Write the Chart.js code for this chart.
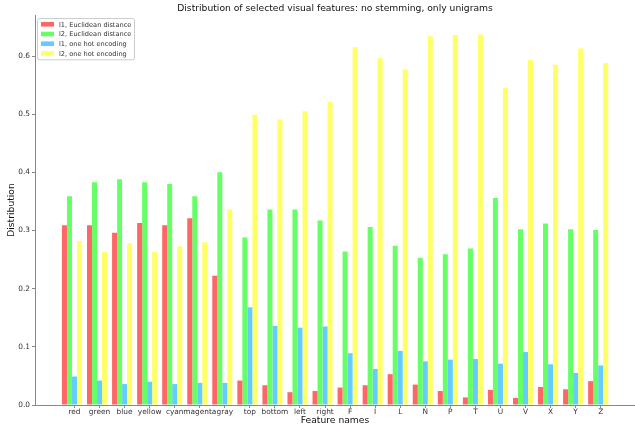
<!DOCTYPE html>
<html>
<head>
<meta charset="utf-8">
<script src="https://cdn.jsdelivr.net/npm/chart.js@4"></script>
<style>
  html, body { margin: 0; padding: 0; background: #fff; }
  #wrap { width: 635px; height: 426px; }
</style>
</head>
<body>
<div id="wrap"><canvas id="chart"></canvas></div>
<script>
const features = ["red", "green", "blue", "yellow", "cyan", "magenta", "gray", "top", "bottom", "left", "right",
  "F", "I", "L", "N", "P", "T", "U", "V", "X", "Y", "Z"];

const l1Euclid = [0.309, 0.309, 0.296, 0.313, 0.309, 0.321, 0.222, 0.042, 0.034, 0.022, 0.024,
  0.030, 0.034, 0.053, 0.035, 0.024, 0.013, 0.026, 0.012, 0.031, 0.027, 0.041];
const l2Euclid = [0.359, 0.383, 0.388, 0.383, 0.380, 0.359, 0.400, 0.288, 0.336, 0.336, 0.317,
  0.264, 0.306, 0.274, 0.253, 0.259, 0.269, 0.356, 0.302, 0.312, 0.302, 0.301];
const l1OneHot = [0.049, 0.042, 0.036, 0.040, 0.036, 0.038, 0.038, 0.168, 0.136, 0.133, 0.135,
  0.089, 0.062, 0.093, 0.075, 0.078, 0.079, 0.071, 0.091, 0.070, 0.055, 0.068];
const l2OneHot = [0.282, 0.263, 0.278, 0.263, 0.273, 0.280, 0.336, 0.499, 0.491, 0.505, 0.521,
  0.615, 0.596, 0.577, 0.634, 0.636, 0.637, 0.545, 0.593, 0.585, 0.613, 0.588];

const yTicks = [0, 0.1, 0.2, 0.3, 0.4, 0.5, 0.6];

const seriesNames = ["l1, Euclidean distance", "l2, Euclidean distance", "l1, one hot encoding", "l2, one hot encoding"];
const seriesColors = ["#ff6666", "#66ff66", "#66ccff", "#ffff66"];
const chartTitle = "Distribution of selected visual features: no stemming, only unigrams";

const font = "'DejaVu Sans', sans-serif";
const axisColor = "#888";
const textColor = "#333";

function toPoints(values) {
  return values.map((v, i) => ({ x: i, y: v }));
}

const datasets = [l1Euclid, l2Euclid, l1OneHot, l2OneHot].map((vals, k) => ({
  label: seriesNames[k],
  data: toPoints(vals),
  backgroundColor: seriesColors[k],
  borderWidth: 0,
  categoryPercentage: 0.8,
  barPercentage: 1.0
}));

// title centred over the plot area (not the canvas), like matplotlib
const axesTitle = {
  id: "axesTitle",
  afterDraw(chart) {
    const ctx = chart.ctx;
    const a = chart.chartArea;
    ctx.save();
    ctx.font = "9.2px " + font;
    ctx.fillStyle = "#111";
    ctx.textAlign = "center";
    ctx.textBaseline = "middle";
    ctx.fillText(chartTitle, (a.left + a.right) / 2, 9);
    ctx.restore();
  }
};

// boxed legend in the upper left corner of the plot
const boxLegend = {
  id: "boxLegend",
  afterDraw(chart) {
    const ctx = chart.ctx;
    const x0 = chart.chartArea.left + 2, y0 = chart.chartArea.top + 3;
    const w = 97, rowH = 9.7;
    const h = rowH * seriesNames.length + 2.5;
    ctx.save();
    ctx.fillStyle = "rgba(255,255,255,0.85)";
    ctx.strokeStyle = "#ccc";
    ctx.lineWidth = 1;
    ctx.beginPath();
    ctx.roundRect(x0 + 0.5, y0 + 0.5, w, h, 2);
    ctx.fill();
    ctx.stroke();
    ctx.font = "6.6px " + font;
    ctx.textBaseline = "middle";
    chart.data.datasets.forEach((ds, k) => {
      const cy = y0 + 6.3 + k * rowH;
      ctx.fillStyle = ds.backgroundColor;
      ctx.fillRect(x0 + 4, cy - 2.3, 13, 4.6);
      ctx.fillStyle = textColor;
      ctx.fillText(ds.label, x0 + 22, cy + 0.5);
    });
    ctx.restore();
  }
};

new Chart(document.getElementById("chart"), {
  type: "bar",
  data: { datasets },
  options: {
    responsive: true,
    maintainAspectRatio: false,
    animation: false,
    layout: { padding: { left: 0, right: 0, top: 15, bottom: 0 } },
    plugins: {
      legend: { display: false },
      tooltip: { enabled: false },
      title: { display: false }
    },
    scales: {
      x: {
        type: "linear",
        offset: false,
        min: -1.476,
        max: 22.47,
        afterBuildTicks(scale) {
          scale.ticks = features.map((_, i) => ({ value: i + 0.1 }));
        },
        afterFit(scale) { scale.height = 21; },
        grid: { display: true, offset: false, drawOnChartArea: false, drawTicks: true, tickLength: 3, color: axisColor },
        border: { display: true, color: axisColor, width: 1 },
        ticks: {
          autoSkip: false,
          maxRotation: 0,
          padding: 0,
          color: textColor,
          font: { family: font, size: 7.4 },
          callback(v) { return features[Math.round(v - 0.1)]; }
        },
        title: {
          display: true,
          text: "Feature names",
          color: "#111",
          font: { family: font, size: 9.2 },
          padding: { top: 0, bottom: 0 }
        }
      },
      y: {
        min: 0,
        max: 0.6705,
        afterBuildTicks(scale) {
          scale.ticks = yTicks.map(v => ({ value: v }));
        },
        afterFit(scale) { scale.width = 35; },
        grid: { display: true, drawOnChartArea: false, drawTicks: true, tickLength: 3, color: axisColor },
        border: { display: true, color: axisColor, width: 1 },
        ticks: {
          padding: 2,
          color: textColor,
          font: { family: font, size: 7.4 },
          callback(v) { return v.toFixed(1); }
        },
        title: {
          display: true,
          text: "Distribution",
          color: "#111",
          font: { family: font, size: 9.2 },
          padding: { top: 6, bottom: 0 }
        }
      }
    }
  },
  plugins: [axesTitle, boxLegend]
});
</script>
</body>
</html>
